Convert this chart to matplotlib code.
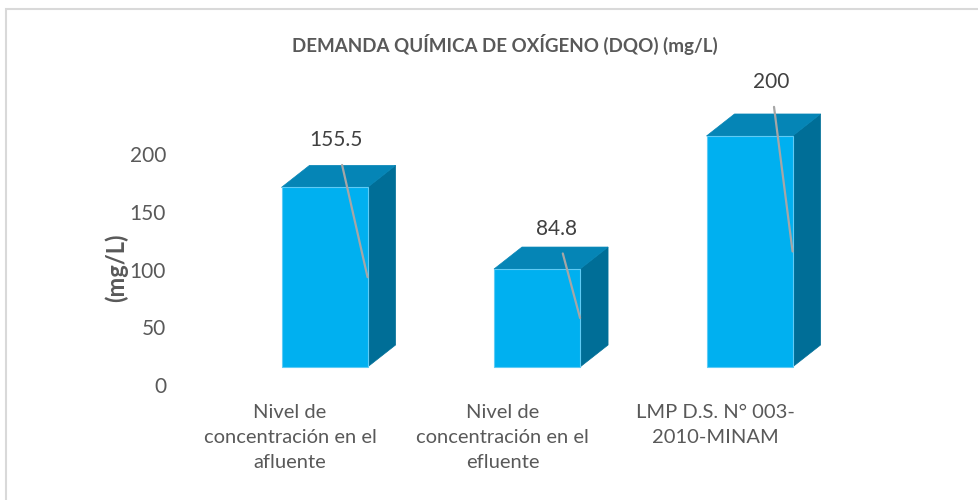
import matplotlib.pyplot as plt
from matplotlib.patches import Polygon, Rectangle

categories = ["Nivel de\nconcentración en el\nafluente",
              "Nivel de\nconcentración en el\nefluente",
              "LMP D.S. N° 003-\n2010-MINAM"]
values = [155.5, 84.8, 200]
value_labels = ["155.5", "84.8", "200"]
yticks = [0, 50, 100, 150, 200]

# manual data label placement (as in the dragged Excel labels): (dx, dy above front top)
label_offsets = [(0.056, 41), (0.09, 35), (0.10, 47)]

plt.rcParams['font.family'] = ['Lato', 'DejaVu Sans']

front_c = '#00B0F0'
top_c = '#0585B6'
side_c = '#006E97'

W, H = 979, 500
fig = plt.figure(figsize=(W / 100, H / 100), dpi=100)

# pixel layout of the plot region
px_left, px_right = 180, 930
px_zero, px_per_unit = 385, 1.155
px_cat0, px_cat_step = 290, 212.5
ymax = 240
ax = fig.add_axes([px_left / W, (H - px_zero) / H,
                   (px_right - px_left) / W, ymax * px_per_unit / H])
ax.set_xlim((px_left - px_cat0) / px_cat_step, (px_right - px_cat0) / px_cat_step)
ax.set_ylim(0, ymax)

# 3d look of the bars
base = 15.6            # floor offset of the front faces
shift = -0.04          # bar left edge relative to category
width = 0.405
dx = 28 / px_cat_step  # depth in x
dy = 22 / px_per_unit  # depth in y

for i, v in enumerate(values):
    x0 = i + shift
    x1 = x0 + width
    yb, yt = base, base + v
    ax.add_patch(Polygon([(x1, yb), (x1 + dx, yb + dy), (x1 + dx, yt + dy), (x1, yt)],
                         closed=True, facecolor=side_c, edgecolor=side_c, lw=0.5))
    ax.add_patch(Polygon([(x0, yt), (x1, yt), (x1 + dx, yt + dy), (x0 + dx, yt + dy)],
                         closed=True, facecolor=top_c, edgecolor=top_c, lw=0.5))
    ax.bar(x0, v, width=width, bottom=base, align='edge', color=front_c,
           edgecolor='#5FCBF5', lw=0.8, zorder=3)

    ox, oy = label_offsets[i]
    ax.annotate(value_labels[i], xy=(x1, base + v / 2), xytext=(x0 + width / 2 + ox, yt + oy),
                ha='center', va='center', fontsize=15, color='#404040', zorder=5,
                annotation_clip=False,
                arrowprops=dict(arrowstyle='-', color='#A6A6A6', lw=1.6,
                                shrinkA=9, shrinkB=0))

ax.set_yticks(yticks)
ax.set_xticks(range(len(categories)))
ax.set_xticklabels(categories, linespacing=1.55, fontsize=14.5)
ax.tick_params(axis='both', length=0, colors='#595959')
ax.tick_params(axis='y', pad=10, labelsize=15)
ax.tick_params(axis='x', pad=14)
for s in ax.spines.values():
    s.set_visible(False)

ax.set_ylabel('(mg/L)', fontsize=17, fontweight='bold', color='#595959')
ax.yaxis.set_label_coords((128 - px_left) / (px_right - px_left), (385 - 268) / (ymax * px_per_unit))

fig.text(505 / W, 1 - 44 / H, 'DEMANDA QUÍMICA DE OXÍGENO (DQO) (mg/L)',
         ha='center', va='center', fontsize=13.5, fontweight='bold', color='#595959')

# chart frame
fig.patches.append(Rectangle((6.5 / W, -0.1), 1.2, 1.1 - 9.5 / H, transform=fig.transFigure,
                             fill=False, edgecolor='#D9D9D9', lw=1.5))

fig.savefig('out.png', dpi=100)
